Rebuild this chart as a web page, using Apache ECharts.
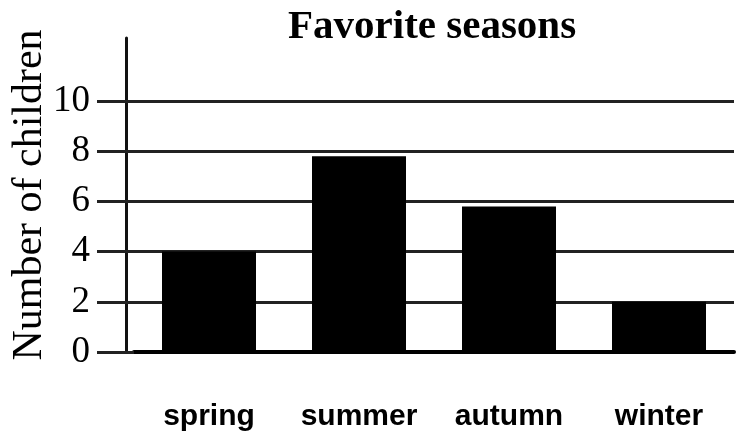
<!DOCTYPE html>
<html>
<head>
<meta charset="utf-8">
<script src="https://cdn.jsdelivr.net/npm/echarts@6/dist/echarts.min.js"></script>
<style>html,body{margin:0;padding:0;background:#fff}#c{width:740px;height:434px}</style>
</head>
<body>
<div id="c"></div>
<script>
const categories = ['spring', 'summer', 'autumn', 'winter'];
const children = [4, 7.8, 5.8, 2];
const yTicks = [0, 2, 4, 6, 8, 10];

const chart = echarts.init(document.getElementById('c'));
chart.setOption({
  animation: false,
  backgroundColor: '#fff',
  title: {
    text: 'Favorite seasons',
    left: 288, top: 7, padding: 0,
    textStyle: { fontFamily: 'Liberation Serif', fontWeight: 'bold', fontSize: 41, color: '#000' }
  },
  grid: [
    { left: 134, right: 6, top: 101, bottom: 82 },
    { left: 126, width: 1, top: 38, bottom: 82 }
  ],
  xAxis: [
    {
      type: 'category', data: categories, gridIndex: 0,
      axisLine: { lineStyle: { color: '#000', width: 4 } },
      axisTick: { show: false },
      axisLabel: { interval: 0, margin: 50, color: '#000', fontFamily: 'Liberation Sans', fontWeight: 'bold', fontSize: 30 }
    },
    { type: 'value', gridIndex: 1, show: false }
  ],
  yAxis: [
    {
      type: 'value', gridIndex: 0, min: yTicks[0], max: yTicks[yTicks.length - 1], interval: 2,
      axisLine: { show: false },
      axisTick: { show: true, length: 37, lineStyle: { color: '#222', width: 3 } },
      splitLine: { show: true, lineStyle: { color: '#222', width: 3 } },
      axisLabel: { margin: 44, color: '#000', fontFamily: 'Liberation Serif', fontSize: 37 }
    },
    {
      type: 'value', gridIndex: 1, min: 0, max: 1,
      axisLine: { show: true, lineStyle: { color: '#111', width: 3 } },
      axisTick: { show: false }, axisLabel: { show: false }, splitLine: { show: false },
      name: 'Number of children', nameLocation: 'middle', nameRotate: 90, nameGap: 75,
      nameTextStyle: { fontFamily: 'Liberation Serif', fontSize: 42, color: '#000' }
    }
  ],
  series: [{
    type: 'bar', data: children, xAxisIndex: 0, yAxisIndex: 0,
    barWidth: 94,
    itemStyle: { color: '#000' }
  }]
});
</script>
</body>
</html>
